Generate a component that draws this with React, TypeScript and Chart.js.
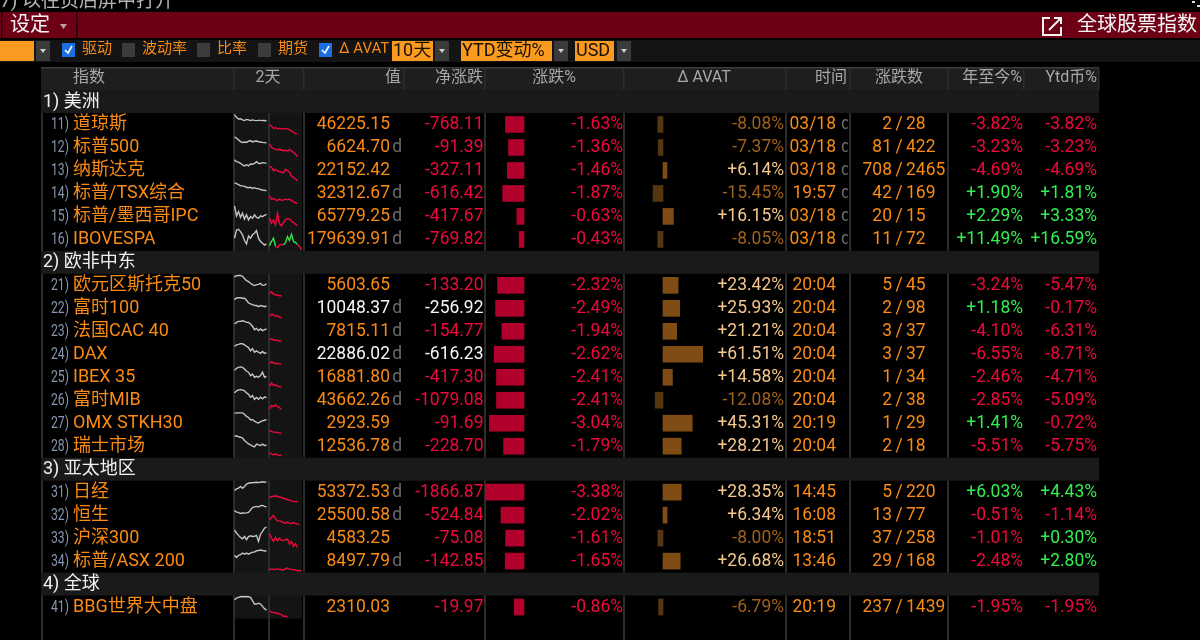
import { useEffect, useRef } from "react"
import { Chart, registerables } from "chart.js"

Chart.register(...registerables)

const regionLabels = ["1) 美洲", "2) 欧非中东", "3) 亚太地区", "4) 全球"]
const regionSizes = [6, 8, 4, 1]

const rowCodes = ["11", "12", "13", "14", "15", "16", "21", "22", "23", "24", "25", "26", "27", "28", "31", "32", "33", "34", "41"]
const indexNames = ["道琼斯", "标普500", "纳斯达克", "标普/TSX综合", "标普/墨西哥IPC", "IBOVESPA", "欧元区斯托克50", "富时100", "法国CAC 40", "DAX", "IBEX 35", "富时MIB", "OMX STKH30", "瑞士市场", "日经", "恒生", "沪深300", "标普/ASX 200", "BBG世界大中盘"]
const lastValues = ["46225.15", "6624.70", "22152.42", "32312.67", "65779.25", "179639.91", "5603.65", "10048.37", "7815.11", "22886.02", "16881.80", "43662.26", "2923.59", "12536.78", "53372.53", "25500.58", "4583.25", "8497.79", "2310.03"]
const delayedRows = ["12", "14", "15", "16", "22", "23", "24", "25", "26", "28", "31", "32", "34"]
const flashRows = ["22", "24"]
const netChanges = ["-768.11", "-91.39", "-327.11", "-616.42", "-417.67", "-769.82", "-133.20", "-256.92", "-154.77", "-616.23", "-417.30", "-1079.08", "-91.69", "-228.70", "-1866.87", "-524.84", "-75.08", "-142.85", "-19.97"]
const pctChanges = [-1.63, -1.36, -1.46, -1.87, -0.63, -0.43, -2.32, -2.49, -1.94, -2.62, -2.41, -2.41, -3.04, -1.79, -3.38, -2.02, -1.61, -1.65, -0.86]
const avatChanges = [-8.08, -7.37, 6.14, -15.45, 16.15, -8.05, 23.42, 25.93, 21.21, 61.51, 14.58, -12.08, 45.31, 28.21, 28.35, 6.34, -8.0, 26.68, -6.79]
const times = ["03/18", "03/18", "03/18", "19:57", "03/18", "03/18", "20:04", "20:04", "20:04", "20:04", "20:04", "20:04", "20:19", "20:04", "14:45", "16:08", "18:51", "13:46", "20:19"]
const advancers = [2, 81, 708, 42, 20, 11, 5, 2, 3, 3, 1, 2, 1, 2, 5, 13, 37, 29, 237]
const decliners = [28, 422, 2465, 169, 15, 72, 45, 98, 37, 37, 34, 38, 29, 18, 220, 77, 258, 168, 1439]
const ytdLocal = [-3.82, -3.23, -4.69, 1.9, 2.29, 11.49, -3.24, 1.18, -4.1, -6.55, -2.46, -2.85, 1.41, -5.51, 6.03, -0.51, -1.01, -2.48, -1.95]
const ytdUsd = [-3.82, -3.23, -4.69, 1.81, 3.33, 16.59, -5.47, -0.17, -6.31, -8.71, -4.71, -5.09, -0.72, -5.75, 4.43, -1.14, 0.3, 2.8, -1.95]

// sparkline levels, 0 = bottom of the cell, 100 = top
const prevDay = [
  [93, 81, 74, 75, 70, 67, 72, 70, 67, 70, 68, 67, 68, 68, 67, 67, 65],
  [96, 90, 83, 75, 72, 74, 72, 77, 80, 74, 77, 78, 75, 74, 72, 71, 70],
  [96, 88, 86, 81, 74, 70, 75, 70, 78, 77, 81, 88, 81, 80, 84, 83, 81],
  [96, 93, 88, 83, 83, 81, 77, 75, 77, 72, 75, 71, 71, 67, 65, 64, 61],
  [96, 52, 71, 46, 64, 38, 57, 35, 49, 42, 57, 46, 42, 52, 49, 55, 59],
  [55, 91, 94, 84, 70, 45, 30, 65, 55, 70, 77, 88, 55, 41, 33, 25, 30],
  [86, 92, 93, 93, 89, 80, 70, 66, 59, 53, 49, 53, 54, 59, 50, 51, 56],
  [88, 95, 96, 96, 94, 94, 85, 73, 69, 66, 62, 62, 57, 62, 60, 57, 60],
  [82, 89, 93, 93, 96, 93, 89, 89, 82, 72, 57, 63, 53, 60, 53, 57, 60],
  [85, 91, 93, 96, 96, 91, 85, 79, 65, 74, 59, 65, 59, 54, 62, 54, 57],
  [80, 89, 93, 95, 93, 86, 76, 72, 57, 64, 50, 54, 50, 57, 72, 50, 54],
  [82, 91, 95, 96, 95, 91, 82, 76, 63, 70, 54, 62, 54, 63, 56, 64, 62],
  [93, 95, 95, 95, 95, 89, 80, 75, 65, 65, 59, 54, 51, 57, 60, 63, 66],
  [93, 95, 91, 89, 85, 75, 67, 60, 56, 50, 47, 59, 56, 53, 59, 53, 54],
  [57, 64, 67, 75, 67, 75, 85, 89, 91, 91, 92, 93, 92, 93, 95, 93, 95],
  [70, 63, 62, 57, 59, 59, 60, 62, 73, 83, 86, 88, 85, 91, 92, 88, 86],
  [86, 72, 62, 53, 47, 57, 43, 57, 60, 57, 58, 62, 36, 67, 79, 93, 98],
  [75, 66, 75, 78, 85, 80, 85, 80, 85, 89, 89, 95, 96, 98, 96, 95, 92],
  [82, 89, 92, 95, 96, 95, 96, 95, 92, 78, 63, 63, 67, 63, 53, 43, 36],
]
const today = [
  [49, 43, 33, 36, 32, 33, 30, 32, 32, 32, 26, 22, 16, 10, 9],
  [64, 51, 45, 42, 39, 42, 38, 36, 38, 35, 42, 36, 28, 20, 10],
  [67, 64, 49, 55, 48, 45, 42, 39, 55, 49, 42, 26, 19, 12, 6],
  [39, 25, 29, 22, 19, 25, 20, 22, 25, 22, 25, 20, 13, 10, 6],
  [42, 20, 35, 13, 64, 17, 9, 23, 35, 41, 38, 30, 23, 16, 10],
  [22, 41, 55, 19, 14, 26, 28, 26, 36, 62, 45, 72, 41, 36, 28, 19, 4],
  [14, 22, 12, 8, 8, 5, 5],
  [14, 25, 21, 15, 18, 12, 9],
  [14, 17, 12, 11, 11, 8, 7],
  [9, 18, 12, 9, 11, 8, 7],
  [11, 25, 14, 17, 11, 8, 8],
  [12, 27, 22, 30, 22, 18, 11],
  [18, 14, 11, 10, 10, 7, 7],
  [21, 17, 12, 17, 12, 9, 12],
  [31, 29, 32, 34, 32, 28, 28, 21, 22, 17, 15, 12, 10, 8, 10],
  [30, 40, 49, 34, 25, 25, 22, 18, 15, 20, 15, 14, 17, 14, 11, 9],
  [69, 50, 36, 53, 38, 50, 40, 40, 43, 46, 24, 36, 14, 25, 9],
  [17, 13, 16, 13, 17, 13, 14, 11, 17, 20, 15, 13, 14, 11, 9, 9, 8],
  [33, 28, 27, 24, 23, 20, 17, 10, 10, 8],
]

const ORANGE = "#f98a14"
const RED = "#f0083c"
const GREEN = "#33ee50"
const FONT = 'Roboto, "Noto Sans CJK SC", sans-serif'

const ROW_H = 22.98
const FIRST_ROW_Y = 101.5

// row slot of every region band and index line
const regionSlots: number[] = []
const rowSlots: number[] = []
let slot = 0
regionSizes.forEach((size) => {
  regionSlots.push(slot++)
  for (let i = 0; i < size; i++) rowSlots.push(slot++)
})

const signed = (v: number) => (v > 0 ? "+" : "") + v.toFixed(2) + "%"

function label(ctx: CanvasRenderingContext2D, str: string, x: number, y: number, color: string, align: CanvasTextAlign = "left", size = 18, sx = 1) {
  ctx.save()
  ctx.font = `${size}px ${FONT}`
  ctx.fillStyle = color
  ctx.textAlign = align
  ctx.textBaseline = "middle"
  ctx.translate(x, y)
  ctx.scale(sx, 1)
  ctx.fillText(str, 0, 0)
  ctx.restore()
}

const num = (ctx: CanvasRenderingContext2D, str: string, x: number, y: number, color: string, align: CanvasTextAlign = "right") =>
  label(ctx, str, x, y, color, align, 18, 0.97)

function dropButton(ctx: CanvasRenderingContext2D, x: number) {
  ctx.fillStyle = "#3a3a3a"
  ctx.fillRect(x, 41, 14, 20)
  ctx.fillStyle = "#cfcfcf"
  ctx.beginPath()
  ctx.moveTo(x + 4, 49)
  ctx.lineTo(x + 10, 49)
  ctx.lineTo(x + 7, 53)
  ctx.fill()
}

function orangeBox(ctx: CanvasRenderingContext2D, x: number, w: number, str: string) {
  ctx.fillStyle = "#fb9a20"
  ctx.fillRect(x, 41, w, 20)
  if (str) label(ctx, str, x + 1, 51.5, "#1a1000", "left", 18)
}

function checkBox(ctx: CanvasRenderingContext2D, x: number, on: boolean, str: string) {
  ctx.fillStyle = on ? "#1c6fe0" : "#3c3c3c"
  ctx.fillRect(x, 43, 13, 14)
  if (on) {
    ctx.strokeStyle = "#ffffff"
    ctx.lineWidth = 1.6
    ctx.beginPath()
    ctx.moveTo(x + 3, 50)
    ctx.lineTo(x + 6, 53)
    ctx.lineTo(x + 10, 46)
    ctx.stroke()
  }
  label(ctx, str, x + 20, 49.5, ORANGE, "left", 15)
}

const tablePlugin = {
  id: "bbgTable",
  beforeDatasetsDraw(chart: Chart) {
    const { ctx, scales } = chart
    const y = scales.y
    const top = (s: number) => y.getPixelForValue(s - 0.5)
    ctx.save()
    ctx.fillStyle = "#000000"
    ctx.fillRect(0, 0, 1200, 640)

    // spark panels, drawn under the lines
    const lastRow = rowSlots[rowSlots.length - 1]
    ctx.fillStyle = "#141414"
    ctx.fillRect(234, top(1), 68, top(lastRow + 1) - top(1))

    // column rules
    ctx.fillStyle = "#2c2c2c"
    ;[41, 233, 268, 303, 484, 623, 785, 849, 947].forEach((x) => ctx.fillRect(x, 67, 2, 573))

    // region bands
    ctx.fillStyle = "#1a1a1a"
    regionSlots.forEach((s) => ctx.fillRect(41, top(s), 1058, top(s + 1) - top(s)))

    // header
    ctx.fillStyle = "#1e1e1e"
    ctx.fillRect(41, 68, 1058, 22)
    ctx.fillStyle = "#3c3c3c"
    ctx.fillRect(41, 67, 1058, 1.5)
    ctx.fillStyle = "#2c2c2c"
    ;[233, 303, 403, 484, 623, 785, 849, 947, 1023, 1098].forEach((x) => ctx.fillRect(x, 68, 1.5, 22))
    ctx.restore()
  },
  afterDatasetsDraw(chart: Chart) {
    const { ctx, scales } = chart
    const y = scales.y
    ctx.save()

    // leftover of the window behind
    label(ctx, "7) 以往页后屏中打开", 0, 2, "#b4b4b4", "left", 19)
    ctx.fillStyle = "#d8d8d8"
    ctx.fillRect(1192, 1, 3, 2)
    ctx.fillRect(1197, 5, 3, 2)

    // title bar
    ctx.fillStyle = "#6e0016"
    ctx.fillRect(0, 12, 1200, 26)
    ctx.fillStyle = "#2a0008"
    ctx.fillRect(1, 12, 1.5, 26)
    ctx.fillRect(76, 12, 1.5, 26)
    label(ctx, "设定", 10, 25.5, "#f4f0f4", "left", 20)
    ctx.fillStyle = "#b9a0a5"
    ctx.beginPath()
    ctx.moveTo(60, 24)
    ctx.lineTo(67, 24)
    ctx.lineTo(63.5, 29)
    ctx.fill()
    label(ctx, "全球股票指数", 1197, 25.5, "#f4f4f4", "right", 20)
    ctx.strokeStyle = "#f4f4f4"
    ctx.lineWidth = 2
    ctx.beginPath()
    ctx.moveTo(1050, 18)
    ctx.lineTo(1043, 18)
    ctx.lineTo(1043, 35)
    ctx.lineTo(1061, 35)
    ctx.lineTo(1061, 27)
    ctx.moveTo(1049, 30)
    ctx.lineTo(1060, 19)
    ctx.moveTo(1054, 18)
    ctx.lineTo(1061, 18)
    ctx.lineTo(1061, 24)
    ctx.stroke()

    // toolbar
    ctx.fillStyle = "#141414"
    ctx.fillRect(0, 40, 1200, 22)
    orangeBox(ctx, 0, 34, "")
    dropButton(ctx, 36)
    checkBox(ctx, 62, true, "驱动")
    checkBox(ctx, 122, false, "波动率")
    checkBox(ctx, 197, false, "比率")
    checkBox(ctx, 258, false, "期货")
    checkBox(ctx, 319, true, "Δ AVAT")
    orangeBox(ctx, 392, 41, "10天")
    dropButton(ctx, 435)
    orangeBox(ctx, 461, 91, "YTD变动%")
    dropButton(ctx, 554)
    orangeBox(ctx, 575, 39, "USD")
    dropButton(ctx, 617)

    // header labels
    const headY = 78
    const headColor = "#a8a8a8"
    label(ctx, "指数", 73, headY, headColor, "left", 16)
    label(ctx, "2天", 268, headY, headColor, "center", 16)
    label(ctx, "值", 401, headY, headColor, "right", 16)
    label(ctx, "净涨跌", 483, headY, headColor, "right", 16)
    label(ctx, "涨跌%", 554, headY, headColor, "center", 16)
    label(ctx, "Δ AVAT", 704, headY, headColor, "center", 16)
    label(ctx, "时间", 847, headY, headColor, "right", 16)
    label(ctx, "涨跌数", 899, headY, headColor, "center", 16)
    label(ctx, "年至今%", 1022, headY, headColor, "right", 16)
    label(ctx, "Ytd币%", 1097, headY, headColor, "right", 16)

    regionLabels.forEach((text, i) => {
      label(ctx, text, 43, y.getPixelForValue(regionSlots[i]) + 0.5, "#f0f0f0", "left", 18)
    })

    rowCodes.forEach((code, i) => {
      const py = y.getPixelForValue(rowSlots[i]) + 0.5
      const flash = flashRows.includes(code)
      label(ctx, code + ")", 69, py, "#8796ac", "right", 17, 0.72)

      label(ctx, indexNames[i], 73, py, ORANGE)
      num(ctx, lastValues[i], 390, py, flash ? "#f6f6f6" : ORANGE)
      if (delayedRows.includes(code)) num(ctx, "d", 402, py, "#6a6a6a")
      num(ctx, netChanges[i], 483.5, py, flash ? "#f6f6f6" : RED)
      num(ctx, signed(pctChanges[i]), 623, py, RED)
      num(ctx, signed(avatChanges[i]), 784, py, avatChanges[i] > 0 ? "#f6c78c" : "#a0611a")
      num(ctx, times[i], 836, py, ORANGE)
      if (i < 6) {
        ctx.save()
        ctx.beginPath()
        ctx.rect(840, py - 12, 8, 24)
        ctx.clip()
        num(ctx, "d", 841, py, "#6a6a6a", "left")
        ctx.restore()
      }
      num(ctx, String(advancers[i]), 892, py, ORANGE)
      num(ctx, "/", 899, py, ORANGE, "center")
      num(ctx, String(decliners[i]), 906, py, ORANGE, "left")
      num(ctx, signed(ytdLocal[i]), 1023, py, ytdLocal[i] > 0 ? GREEN : RED)
      num(ctx, signed(ytdUsd[i]), 1097, py, ytdUsd[i] > 0 ? GREEN : RED)
    })
    ctx.restore()
  },
}

const cellY = (rowIdx: number, level: number) => rowSlots[rowIdx] + 0.5 - level / 100

export default function App() {
  const chartRef = useRef<HTMLCanvasElement>(null)

  useEffect(() => {
    if (!chartRef.current) return
    document.body.style.background = "#000"

    const bars: any[] = [
      {
        type: "bar",
        indexAxis: "y",
        xAxisID: "xPct",
        yAxisID: "y",
        grouped: false,
        barThickness: 16,
        backgroundColor: "#b2002c",
        data: pctChanges.map((v, i) => ({ x: v, y: rowSlots[i] })),
      },
      {
        type: "bar",
        indexAxis: "y",
        xAxisID: "xAvat",
        yAxisID: "y",
        grouped: false,
        barThickness: 16,
        backgroundColor: avatChanges.map((v) => (v > 0 ? "#7f4d13" : "#553611")),
        data: avatChanges.map((v, i) => ({ x: v, y: rowSlots[i] })),
      },
    ]

    const lines: any[] = []
    prevDay.forEach((series, r) => {
      lines.push({
        type: "line",
        indexAxis: "x",
        xAxisID: "xSpark",
        yAxisID: "y",
        borderColor: "#c4c4c4",
        borderWidth: 1.4,
        pointRadius: 0,
        tension: 0,
        data: series.map((v, i) => ({ x: i, y: cellY(r, v) })),
      })
      const close = series[series.length - 1]
      lines.push({
        type: "line",
        indexAxis: "x",
        xAxisID: "xSpark",
        yAxisID: "y",
        borderColor: "#f0083c",
        borderWidth: 1.4,
        pointRadius: 0,
        tension: 0,
        // above the previous close the line turns green
        segment: {
          borderColor: (c: any) => {
            const a = today[r][c.p0DataIndex]
            const b = today[r][c.p1DataIndex]
            return (a + b) / 2 > close ? "#33e34c" : "#f0083c"
          },
        },
        data: today[r].map((v, i) => ({ x: series.length + 0.5 + i, y: cellY(r, v) })),
      })
    })

    const chart = new Chart(chartRef.current, {
      type: "bar",
      data: { datasets: [...lines, ...bars] },
      options: {
        indexAxis: "y",
        responsive: false,
        animation: false,
        devicePixelRatio: 1,
        layout: { padding: 0 },
        plugins: { legend: { display: false }, tooltip: { enabled: false } },
        scales: {
          y: {
            type: "linear",
            axis: "y",
            display: false,
            offset: false,
            reverse: true,
            min: -FIRST_ROW_Y / ROW_H,
            max: (640 - FIRST_ROW_Y) / ROW_H,
          },
          xPct: { type: "linear", axis: "x", display: false, offset: false, min: -524 / 11.4, max: 676 / 11.4 },
          xAvat: { type: "linear", axis: "x", display: false, offset: false, min: -663 / 0.645, max: 537 / 0.645 },
          xSpark: { type: "linear", axis: "x", display: false, offset: false, min: -234.5 / 2, max: 965.5 / 2 },
        },
      } as any,
      plugins: [tablePlugin as any],
    } as any)

    return () => {
      chart.destroy()
    }
  }, [])

  return (
    <div style={{ position: "fixed", left: 0, top: 0, width: 1200, height: 640, background: "#000" }}>
      <canvas ref={chartRef} width={1200} height={640} style={{ display: "block" }} />
    </div>
  )
}
